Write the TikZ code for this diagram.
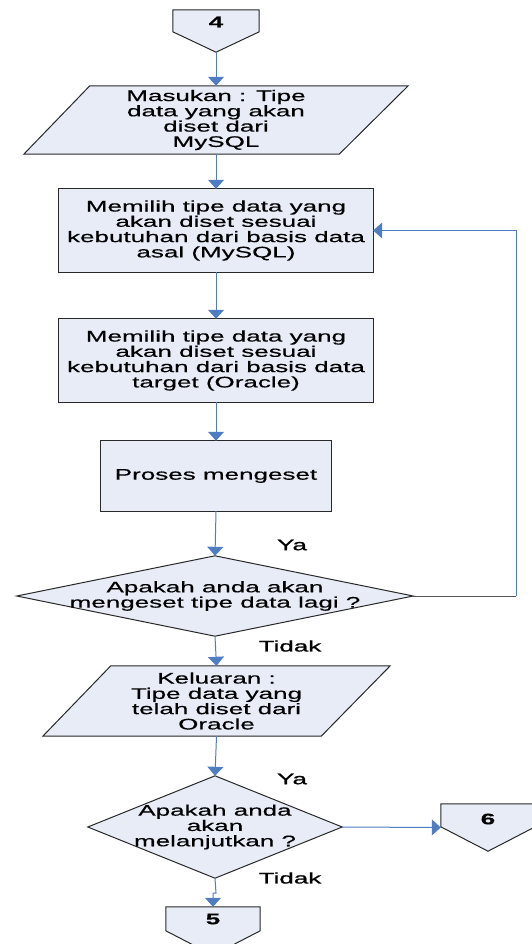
\documentclass[tikz,border=0pt]{standalone}
\usepackage{fontspec}
\setmainfont{Liberation Sans}[FakeStretch=1.7, FakeBold=0.4]
\newfontfamily\lblfont{Liberation Sans}[FakeStretch=1.7, FakeBold=1.1]
\usetikzlibrary{arrows.meta,calc}
\definecolor{fillc}{RGB}{231,236,247}
\definecolor{linec}{RGB}{79,125,196}
\definecolor{edgec}{RGB}{40,40,40}
\definecolor{loopc}{RGB}{85,85,85}
\pgfdeclarelayer{background}
\pgfsetlayers{background,main}
\begin{document}
\begin{tikzpicture}[x=1pt,y=-1pt,
  txt/.style={font=\fontsize{15.3}{15.3}\selectfont},
  shp/.style={draw=edgec, fill=fillc, line width=1pt, line join=miter},
  box/.style={txt, rectangle, inner sep=0pt, align=center},
  flow/.style={draw=linec, line width=1pt, -{Triangle[width=16pt,length=9pt]}},
  num/.style={font=\fontsize{15.3}{15.3}\selectfont\bfseries, inner sep=0pt},
  lbl/.style={font=\fontsize{15.3}{15.3}\selectfont\lblfont, inner sep=0pt}]
\useasboundingbox (0,0) rectangle (532,944);

% off-page connector 4
\node[box, minimum width=86pt, minimum height=42pt] (c4) at (216,31) {};
\node[num] (t4) at (216,22) {4};
% input parallelogram
\node[box, minimum width=384pt, minimum height=68pt] (p1) at (216,120)
  {Masukan : Tipe\\data yang akan\\diset dari\\MySQL};
% process boxes
\node[box, minimum width=314pt, minimum height=83pt] (b1) at (216,230.5)
  {Memilih tipe data yang\\akan diset sesuai\\kebutuhan dari basis data\\asal (MySQL)};
\node[box, minimum width=314pt, minimum height=83pt] (b2) at (216,360.5)
  {Memilih tipe data yang\\akan diset sesuai\\kebutuhan dari basis data\\target (Oracle)};
\node[box, minimum width=230pt, minimum height=70pt] (b3) at (216,476)
  {Proses mengeset};
% decision 1
\node[box, minimum width=396pt, minimum height=80pt] (d1) at (215,596)
  {Apakah anda akan\\mengeset tipe data lagi ?};
% output parallelogram
\node[box, minimum width=347pt, minimum height=70pt] (p2) at (216.5,701)
  {Keluaran :\\Tipe data yang\\telah diset dari\\Oracle};
% decision 2
\node[box, minimum width=254pt, minimum height=102pt] (d2) at (215,827)
  {Apakah anda\\akan\\melanjutkan ?};
% connectors 6 and 5
\node[box, minimum width=94pt, minimum height=47pt] (c6) at (488,827.5) {};
\node[num] (t6) at (488,819) {6};
\node[box, minimum width=94pt, minimum height=48pt] (c5) at (213,931) {};
\node[num] (t5) at (213,919) {5};

% labels
\node[lbl] (ya1) at (292,545) {Ya};
\node[lbl] (td1) at (290,646) {Tidak};
\node[lbl] (ya2) at (292,779) {Ya};
\node[lbl] (td2) at (290,878) {Tidak};

\begin{pgfonlayer}{background}
  \path[shp] (c4.north west) -- (c4.north east) -- ($(c4.north east)+(0,22)$)
     -- (c4.south) -- ($(c4.north west)+(0,22)$) -- cycle;
  \path[shp] ($(p1.north west)+(66,0)$) -- (p1.north east)
     -- ($(p1.south east)+(-69,0)$) -- (p1.south west) -- cycle;
  \path[shp] (b1.north west) rectangle (b1.south east);
  \path[shp] (b2.north west) rectangle (b2.south east);
  \path[shp] (b3.north west) rectangle (b3.south east);
  \path[shp] (d1.north) -- (d1.east) -- (d1.south) -- (d1.west) -- cycle;
  \path[shp] ($(p2.north west)+(68,0)$) -- (p2.north east)
     -- ($(p2.south east)+(-69,0)$) -- (p2.south west) -- cycle;
  \path[shp] (d2.north) -- (d2.east) -- (d2.south) -- (d2.west) -- cycle;
  \path[shp] (c6.north west) -- (c6.north east) -- ($(c6.north east)+(0,23)$)
     -- (c6.south) -- ($(c6.north west)+(0,23)$) -- cycle;
  \path[shp] (c5.north west) -- (c5.north east) -- ($(c5.north east)+(0,24)$)
     -- (c5.south) -- ($(c5.north west)+(0,24)$) -- cycle;
\end{pgfonlayer}

% flow lines
\coordinate (loopB) at (516,596);
\coordinate (jog) at (216,893);
\draw[flow] (c4.south) -- (p1.north);
\draw[flow] (p1.south) -- (b1.north);
\draw[flow] (b1.south) -- (b2.north);
\draw[flow] (b2.south) -- (b3.north);
\draw[flow] (b3.south) -- (d1.north);
\draw[draw=loopc, line width=1pt] (d1.east) -- (loopB);
\draw[flow] (loopB) |- (b1.east);
\draw[flow] (d1.south) -- (p2.north);
\draw[flow] (p2.south) -- (d2.north);
\draw[flow] (d2.east) -- (c6.west);
\draw[flow] (d2.south) -- (jog) -| (c5.north);
\end{tikzpicture}
\end{document}
